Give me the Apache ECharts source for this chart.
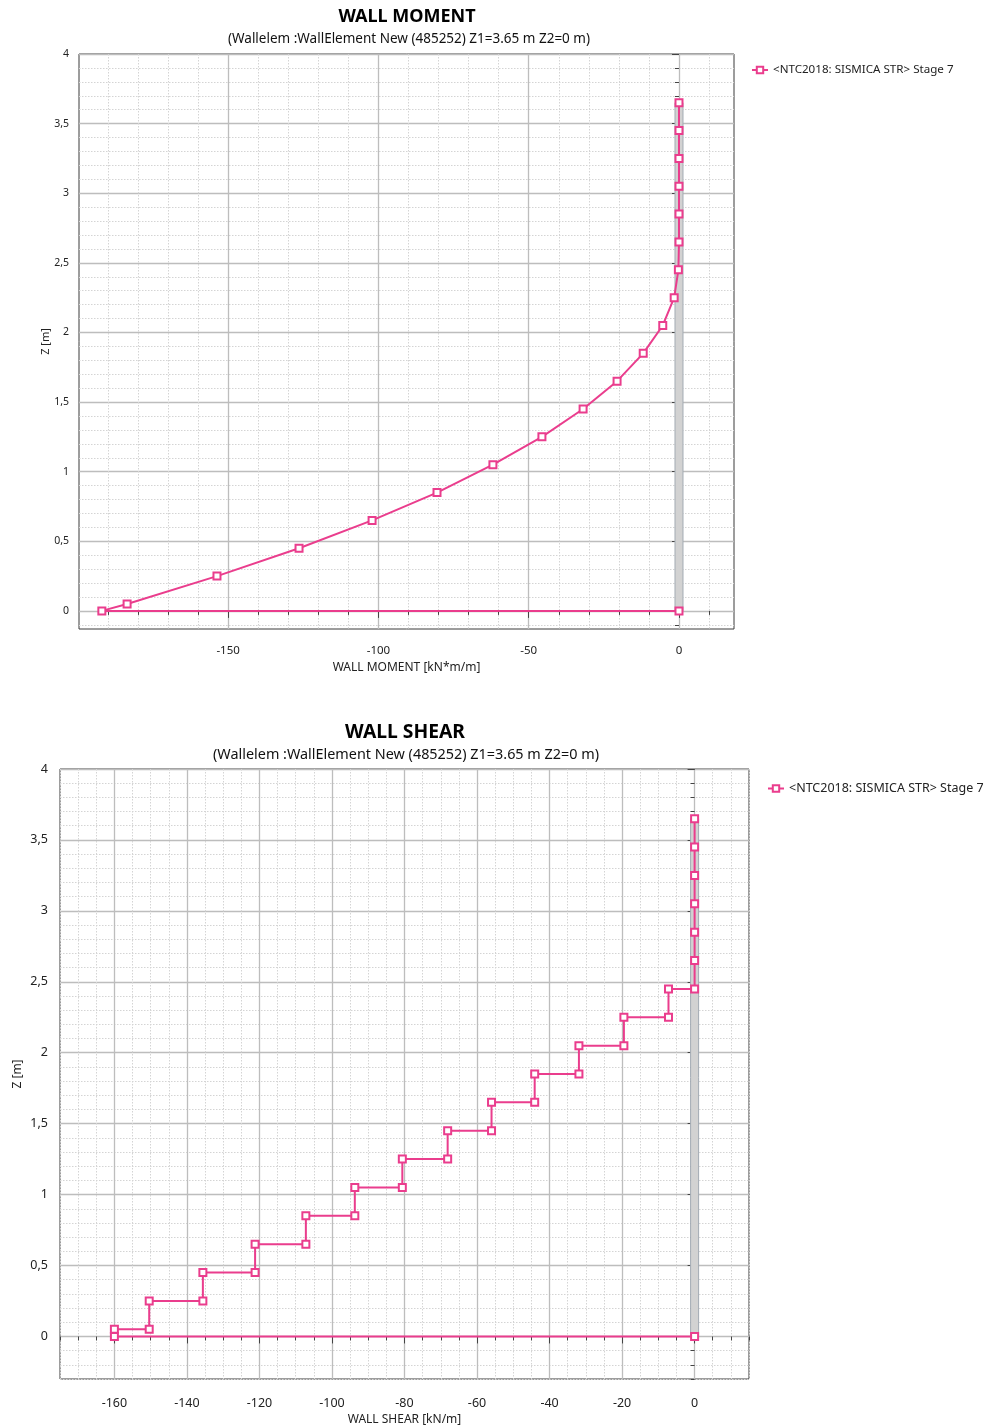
<!DOCTYPE html>
<html>
<head>
<meta charset="utf-8">
<script src="https://cdn.jsdelivr.net/npm/echarts@6/dist/echarts.min.js"></script>
<style>
  html, body { margin: 0; padding: 0; background: #ffffff; }
  #chart { width: 985px; height: 1427px; }
</style>
</head>
<body>
<div id="chart"></div>
<script>
// ---- Data: wall element results, NTC2018 seismic combination, stage 7 ----
const seriesName = '<NTC2018: SISMICA STR> Stage 7';
const subtitleText = '(Wallelem :WallElement New (485252) Z1=3.65 m Z2=0 m)';

// Bending moment diagram [kN*m/m] along the wall height Z [m]
const momentZ = [3.65, 3.45, 3.25, 3.05, 2.85, 2.65, 2.45, 2.25, 2.05, 1.85, 1.65,
                 1.45, 1.25, 1.05, 0.85, 0.65, 0.45, 0.25, 0.05, 0, 0];
const momentValues = [0, 0, 0, 0, 0, 0, -0.2, -1.6, -5.4, -11.9, -20.6,
                      -31.9, -45.6, -61.9, -80.5, -102.1, -126.4, -153.7, -183.6, -192.0, 0];

// Shear diagram [kN/m] (stepped) along the wall height Z [m]
const shearZ = [3.65, 3.45, 3.25, 3.05, 2.85, 2.65, 2.45, 2.45, 2.25, 2.25, 2.05, 2.05,
                1.85, 1.85, 1.65, 1.65, 1.45, 1.45, 1.25, 1.25, 1.05, 1.05, 0.85, 0.85,
                0.65, 0.65, 0.45, 0.45, 0.25, 0.25, 0.05, 0.05, 0, 0];
const shearValues = [0, 0, 0, 0, 0, 0, 0, -7.2, -7.2, -19.5, -19.5, -31.9,
                     -31.9, -44.1, -44.1, -56.0, -56.0, -68.1, -68.1, -80.6, -80.6, -93.7, -93.7, -107.2,
                     -107.2, -121.2, -121.2, -135.6, -135.6, -150.4, -150.4, -160.0, -160.0, 0];

// Wall element extent (top, base) in Z [m]
const wallTop = 3.65;
const wallBase = 0;

// Axis ranges and labelled ticks
const momentRange = [-199.6, 18.3];
const momentTicks = [-150, -100, -50, 0];
const shearRange = [-175, 15];
const shearTicks = [-160, -140, -120, -100, -80, -60, -40, -20, 0];
const momentZRange = [-0.13, 4];
const shearZRange = [-0.3, 4];
const zTicks = [0, 0.5, 1, 1.5, 2, 2.5, 3, 3.5, 4];

// evenly spaced minor tick positions inside a range
function minorSteps(range, step) {
  const out = [];
  const start = Math.ceil(range[0] / step - 1e-9);
  const end = Math.floor(range[1] / step + 1e-9);
  for (let k = start; k <= end; k++) out.push(Math.round(k * step * 1000) / 1000);
  return out;
}

const FONT = '"Noto Sans", "Open Sans", sans-serif';
const PINK = '#ea3d8d';
const TEXT = '#222222';

function zip(xs, ys) { return xs.map((x, i) => [x, ys[i]]); }
const commaFmt = v => String(v).replace('.', ',');

function minorAxis(gridIndex, range, ticks, tickLen, position) {
  return {
    type: 'value', gridIndex, position, min: range[0], max: range[1],
    axisLine: { show: false },
    axisTick: { show: true, customValues: ticks, length: tickLen, lineStyle: { color: '#444', width: 1 } },
    axisLabel: { show: false },
    splitLine: { show: true, lineStyle: { color: '#d4d4d4', type: [1.5, 1.5], width: 1 } }
  };
}
function majorAxis(gridIndex, range, ticks, position, opts) {
  return Object.assign({
    type: 'value', gridIndex, position, min: range[0], max: range[1],
    axisLine: { show: false },
    axisTick: { show: true, customValues: ticks, length: 7, lineStyle: { color: '#444', width: 1 } },
    axisLabel: { show: true, customValues: ticks, color: TEXT, fontFamily: FONT },
    splitLine: { show: true, lineStyle: { color: '#bdbdbd', width: 1.3 } },
    nameLocation: 'middle',
    nameMoveOverlap: false,
    nameTextStyle: { color: TEXT, fontFamily: FONT, fontSize: 12 }
  }, opts);
}

function wallBand(xIdx, yIdx) {
  return {
    type: 'custom', xAxisIndex: xIdx, yAxisIndex: yIdx, z: 1, silent: true,
    data: [[0, wallTop, wallBase]],
    renderItem: function (params, api) {
      const top = api.coord([api.value(0), api.value(1)]);
      const base = api.coord([api.value(0), api.value(2)]);
      return {
        type: 'rect',
        shape: { x: top[0] - 4, y: top[1], width: 8, height: base[1] - top[1] },
        style: { fill: '#d2d2d2', stroke: '#a3abb3', lineWidth: 1 }
      };
    }
  };
}

function profile(xIdx, yIdx, values, zs) {
  return {
    name: seriesName, type: 'line', xAxisIndex: xIdx, yAxisIndex: yIdx, z: 3,
    data: zip(values, zs),
    symbol: 'rect', symbolSize: 7, showAllSymbol: true,
    color: PINK,
    lineStyle: { color: PINK, width: 2 },
    itemStyle: { color: '#ffffff', borderColor: PINK, borderWidth: 2 },
    emphasis: { disabled: true }
  };
}

const chart = echarts.init(document.getElementById('chart'), null, { renderer: 'canvas', width: 985, height: 1427 });

const yMajorTop = majorAxis(0, momentZRange, zTicks, 'left', {
  name: 'Z [m]', nameGap: 28, nameTextStyle: { color: TEXT, fontFamily: FONT, fontSize: 11 }
});
yMajorTop.axisLabel.formatter = commaFmt; yMajorTop.axisLabel.fontSize = 10.5; yMajorTop.axisLabel.margin = 10;
const xMajorTop = majorAxis(0, momentRange, momentTicks, 'bottom', { name: 'WALL MOMENT [kN*m/m]', nameGap: 33 });
xMajorTop.axisLabel.fontSize = 11.5; xMajorTop.axisLabel.margin = 16;

const yMajorBot = majorAxis(1, shearZRange, zTicks, 'left', {
  name: 'Z [m]', nameGap: 36, nameTextStyle: { color: TEXT, fontFamily: FONT, fontSize: 12 }
});
yMajorBot.axisLabel.formatter = commaFmt; yMajorBot.axisLabel.fontSize = 12.5; yMajorBot.axisLabel.margin = 12;
const xMajorBot = majorAxis(1, shearRange, shearTicks, 'bottom', { name: 'WALL SHEAR [kN/m]', nameGap: 35 });
xMajorBot.axisLabel.fontSize = 12.5; xMajorBot.axisLabel.margin = 18;

chart.setOption({
  animation: false,
  backgroundColor: '#ffffff',
  textStyle: { fontFamily: FONT },
  title: [
    { text: 'WALL MOMENT', left: 407, top: 8, textAlign: 'center', padding: 0,
      textStyle: { fontSize: 18, fontWeight: 'bold', color: '#000', fontFamily: FONT } },
    { text: subtitleText, left: 409, top: 32, textAlign: 'center', padding: 0,
      textStyle: { fontSize: 13.5, fontWeight: 'normal', color: '#111', fontFamily: FONT } },
    { text: 'WALL SHEAR', left: 405, top: 723, textAlign: 'center', padding: 0,
      textStyle: { fontSize: 19.3, fontWeight: 'bold', color: '#000', fontFamily: FONT } },
    { text: subtitleText, left: 406, top: 748, textAlign: 'center', padding: 0,
      textStyle: { fontSize: 14.4, fontWeight: 'normal', color: '#111', fontFamily: FONT } }
  ],
  legend: [
    { data: [seriesName], left: 751, top: 64, padding: 0, itemWidth: 16, itemHeight: 8, itemGap: 0,
      selectedMode: false, textStyle: { fontSize: 11.6, color: TEXT, fontFamily: FONT } },
    { data: [seriesName], left: 767, top: 782, padding: 0, itemWidth: 16, itemHeight: 8, itemGap: 0,
      selectedMode: false, textStyle: { fontSize: 12.5, color: TEXT, fontFamily: FONT } }
  ],
  grid: [
    { left: 79, top: 54, width: 655, height: 575, show: true, borderColor: '#3a3a3a', borderWidth: 1,
      backgroundColor: 'transparent', containLabel: false },
    { left: 60, top: 769, width: 689, height: 610, show: true, borderColor: '#3a3a3a', borderWidth: 1,
      backgroundColor: 'transparent', containLabel: false }
  ],
  xAxis: [
    minorAxis(0, momentRange, minorSteps(momentRange, 10), 4, 'bottom'),
    xMajorTop,
    minorAxis(1, shearRange, minorSteps(shearRange, 5), 4, 'bottom'),
    xMajorBot
  ],
  yAxis: [
    minorAxis(0, momentZRange, minorSteps(momentZRange, 0.1), 4, 'left'),
    yMajorTop,
    minorAxis(1, shearZRange, minorSteps(shearZRange, 0.1), 4, 'left'),
    yMajorBot
  ],
  series: [
    wallBand(1, 1),
    profile(1, 1, momentValues, momentZ),
    wallBand(3, 3),
    profile(3, 3, shearValues, shearZ)
  ]
});
</script>
</body>
</html>
